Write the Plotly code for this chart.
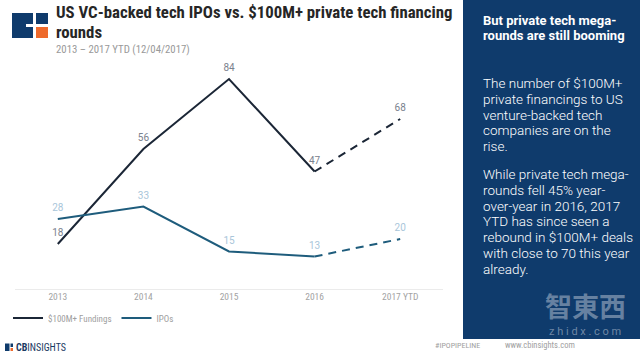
import plotly.graph_objects as go

# ---------------- data ----------------
years = ["2013", "2014", "2015", "2016", "2017 YTD"]
fundings = [18, 56, 84, 47, 68]
ipos = [28, 33, 15, 13, 20]

title_l1 = "US VC-backed tech IPOs vs. $100M+ private tech financing"
title_l2 = "rounds"
subtitle = "2013 – 2017 YTD (12/04/2017)"
panel_head = ["But private tech mega-", "rounds are still booming"]
panel_p1 = ["The number of $100M+", "private financings to US", "venture-backed tech",
            "companies are on the", "rise."]
panel_p2 = ["While private tech mega-", "rounds fell 45% year-", "over-year in 2016, 2017",
            "YTD has since seen a", "rebound in $100M+ deals", "with close to 70 this year",
            "already."]

W, H = 640, 353
def px(x): return x / W
def py(y): return 1 - y / H

FUND_C = "#1b2636"
IPO_C = "#1e5c7c"
FUND_LBL = "#7a828e"
IPO_LBL = "#a9c6da"
NAVY = "#0f3b6c"

fig = go.Figure()

def series(xs, ys, labels, color, lblcolor, name, dash=None, legend=True):
    fig.add_trace(go.Scatter(
        x=xs, y=ys, mode="lines+markers+text", name=name, showlegend=legend,
        line=dict(color=color, width=2, dash=dash),
        marker=dict(size=7, color="rgba(0,0,0,0)"),
        text=labels, textposition="top center",
        textfont=dict(size=10, color=lblcolor, family="Roboto"), cliponaxis=False))

# solid parts (2013-2016)
series(years[:4], fundings[:4], [str(v) for v in fundings[:4]], FUND_C, FUND_LBL, "$100M+ Fundings")
series(years[:4], ipos[:4], [str(v) for v in ipos[:4]], IPO_C, IPO_LBL, "IPOs")
# dashed parts (2016-2017 YTD)
series(years[3:], fundings[3:], ["", str(fundings[4])], FUND_C, FUND_LBL, "f2", "8px,6px", False)
series(years[3:], ipos[3:], ["", str(ipos[4])], IPO_C, IPO_LBL, "i2", "8px,6px", False)

shapes = []
# right panel
shapes.append(dict(type="rect", xref="paper", yref="paper", x0=px(463), x1=px(640), y0=py(339), y1=py(0),
                   fillcolor=NAVY, line=dict(width=0), layer="below"))
# logo top-left
shapes += [
    dict(type="rect", xref="paper", yref="paper", x0=px(12), x1=px(33), y0=py(38), y1=py(13),
         fillcolor=NAVY, line=dict(width=0)),
    dict(type="rect", xref="paper", yref="paper", x0=px(36), x1=px(48), y0=py(24), y1=py(13),
         fillcolor=NAVY, line=dict(width=0)),
    dict(type="rect", xref="paper", yref="paper", x0=px(36), x1=px(48), y0=py(38), y1=py(27),
         fillcolor="#ee6a2c", line=dict(width=0)),
    dict(type="rect", xref="paper", yref="paper", x0=px(26), x1=px(34), y0=py(27), y1=py(24),
         fillcolor="white", line=dict(width=0)),
]
# footer logo icon
shapes += [
    dict(type="rect", xref="paper", yref="paper", x0=px(5), x1=px(9.5), y0=py(351), y1=py(343.5),
         fillcolor=NAVY, line=dict(width=0)),
    dict(type="rect", xref="paper", yref="paper", x0=px(10.5), x1=px(13), y0=py(347), y1=py(343.5),
         fillcolor=NAVY, line=dict(width=0)),
    dict(type="rect", xref="paper", yref="paper", x0=px(10.5), x1=px(13), y0=py(351), y1=py(348),
         fillcolor="#ee6a2c", line=dict(width=0)),
]

ann = []
def txt(x, y, s, size, color, family="Roboto", weight="normal", xanchor="left"):
    ann.append(dict(x=px(x), y=py(y), xref="paper", yref="paper", text=s, showarrow=False,
                    xanchor=xanchor, yanchor="middle",
                    font=dict(size=size, color=color, family=family, weight=weight)))

TF = "Liberation Sans Narrow, Roboto Condensed, Roboto"
txt(54, 12, title_l1, 16.8, "#262626", TF, "bold")
txt(54, 32, title_l2, 16.8, "#262626", TF, "bold")
txt(54, 49, subtitle, 10.8, "#999999", TF)

for i, s in enumerate(panel_head):
    txt(481, 20 + i * 15.5, s, 13, "white", "Roboto", "bold")
for i, s in enumerate(panel_p1):
    txt(481, 83 + i * 15.8, s, 13.5, "white", "Roboto", 300)
for i, s in enumerate(panel_p2):
    txt(481, 174 + i * 15.8, s, 13.5, "white", "Roboto", 300)

# watermark
txt(585, 305, "智東西", 27, "rgba(190,200,215,0.5)", "Noto Sans CJK TC", "bold", "center")
txt(585, 331, "z h i d x . c o m", 11, "rgba(190,200,215,0.55)", "Roboto", "normal", "center")

# footer
ann.append(dict(x=px(14), y=py(347), xref="paper", yref="paper", showarrow=False, xanchor="left",
                yanchor="middle", text="<b>CB</b>INSIGHTS",
                font=dict(size=10, color="#1b3a62", family=TF)))
txt(433, 345, "#IPOPIPELINE", 8, "#a0a0a0", TF)
txt(503, 345, "www.cbinsights.com", 8.5, "#a0a0a0", TF)

fig.update_layout(
    width=W, height=H, margin=dict(l=0, r=0, t=0, b=0, autoexpand=False),
    paper_bgcolor="white", plot_bgcolor="white",
    font=dict(family="Roboto", color="#999999"),
    xaxis=dict(domain=[px(15), px(443)], range=[-0.5, 4.5], type="category",
               showgrid=False, zeroline=False, showline=False, ticks="",
               tickfont=dict(size=9.5, color="#a3a3a3", family=TF)),
    yaxis=dict(domain=[py(289), py(64)], range=[0, 90], showgrid=False, zeroline=True,
               zerolinecolor="#ebebeb", zerolinewidth=1, showticklabels=False, showline=False),
    showlegend=True,
    legend=dict(orientation="h", x=px(8), y=py(318), xanchor="left", yanchor="middle",
                font=dict(size=9, color="#a0a0a0", family=TF), bgcolor="rgba(0,0,0,0)",
                itemwidth=30, tracegroupgap=0),
    shapes=shapes, annotations=ann,
)

fig.write_html("out.html")
